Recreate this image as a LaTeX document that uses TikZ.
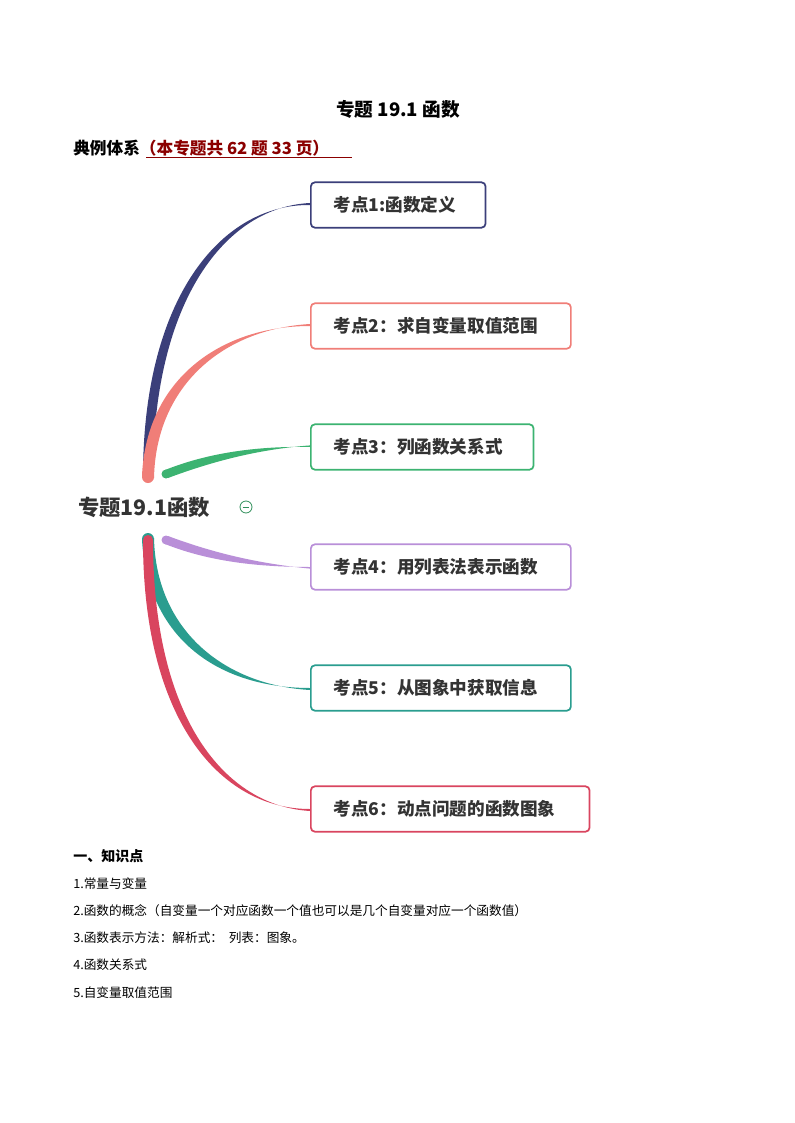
\documentclass[tikz,border=0pt]{standalone}
\usepackage{fontspec}
\setmainfont{Noto Sans CJK SC}
\usepackage{tikz}
\usetikzlibrary{positioning}

\definecolor{navy}{HTML}{3B3F7A}
\definecolor{salmon}{HTML}{F07E78}
\definecolor{leaf}{HTML}{3CB371}
\definecolor{lilac}{HTML}{B98FD8}
\definecolor{teal}{HTML}{2A9D8F}
\definecolor{rose}{HTML}{D9455F}
\definecolor{darkred}{HTML}{8B0000}
\definecolor{ink}{HTML}{333333}

\tikzset{
  topicbox/.style 2 args={draw=#1,line width=1.3pt,rounded corners=3pt,minimum height=34pt,
    anchor=west,inner xsep=17pt,text width=#2,align=left,
    font=\fontsize{13.2pt}{15pt}\selectfont\bfseries,text=ink},
  listline/.style={anchor=west,font=\fontsize{9.5pt}{11pt}\selectfont,inner sep=0pt}
}

\begin{document}
\begin{tikzpicture}[x=0.75pt,y=-0.75pt]
  \useasboundingbox (0,0) rectangle (794,1123);

  \node (title) at (398,109) {\fontsize{14pt}{16pt}\selectfont\bfseries 专题 19.1 函数};
  \node[anchor=west,inner sep=0pt] (system) at (73,148) {\fontsize{12.5pt}{14pt}\selectfont\bfseries 典例体系\textcolor{darkred}{（本专题共 62 题 33 页）}};
  \draw[darkred,line width=0.7pt] (146,157) -- (352,157);

  % topics
  \node[topicbox={navy}{97pt}] (t1) at (310,205) {考点1:函数定义};
  \node[topicbox={salmon}{161pt}] (t2) at (310,326) {考点2：求自变量取值范围};
  \node[topicbox={leaf}{133pt}] (t3) at (310,447) {考点3：列函数关系式};
  \node[topicbox={lilac}{161pt}] (t4) at (310,567) {考点4：用列表法表示函数};
  \node[topicbox={teal}{161pt}] (t5) at (310,688) {考点5：从图象中获取信息};
  \node[topicbox={rose}{175pt}] (t6) at (310,809) {考点6：动点问题的函数图象};

  % root
  \node[anchor=west,inner sep=0pt] (root) at (78,507) {\fontsize{16pt}{18pt}\selectfont\bfseries\color{ink}专题19.1函数};
  \node[circle,draw=leaf!80!black,line width=0.6pt,inner sep=0pt,minimum size=9pt] (fold) at (246,507) {};
  \draw[leaf!80!black,line width=0.6pt] ([xshift=-2.5pt]fold.center) -- ([xshift=2.5pt]fold.center);

  % branches
  \fill[navy] (143,476) .. controls (143,300) and (220,204) .. (t1.west) -- ([yshift=1.5pt]t1.west) .. controls (226,207) and (153,300) .. (153,476) -- cycle;
  \fill[navy] (148,476) circle (5);
  \fill[salmon] (142,476) .. controls (146,380) and (220,326) .. (t2.west) -- ([yshift=1.5pt]t2.west) .. controls (224,329) and (156,385) .. (154,478) -- cycle;
  \fill[salmon] (148,477) circle (6);
  \fill[leaf] (165,470) .. controls (210,452) and (260,446) .. (t3.west) -- ([yshift=1.2pt]t3.west) .. controls (262,449) and (216,460) .. (168,478) -- cycle;
  \fill[leaf] (166,474) circle (4.5);
  \fill[lilac] (165,544) .. controls (210,562) and (260,567) .. (t4.west) -- ([yshift=-1.2pt]t4.west) .. controls (262,564) and (216,554) .. (168,536) -- cycle;
  \fill[lilac] (166,540) circle (4.5);
  \fill[teal] (142,540) .. controls (148,640) and (220,688) .. (t5.west) -- ([yshift=-1.5pt]t5.west) .. controls (224,685) and (156,630) .. (154,538) -- cycle;
  \fill[teal] (148,539) circle (6);
  \fill[rose] (143,540) .. controls (143,720) and (220,809) .. (t6.west) -- ([yshift=-1.5pt]t6.west) .. controls (226,806) and (153,720) .. (153,540) -- cycle;
  \fill[rose] (148,540) circle (5);

  % knowledge points
  \node[listline] (k0) at (73,856) {\fontsize{10.5pt}{12pt}\selectfont\bfseries 一、知识点};
  \node[listline] (k1) at (73,884) {1.常量与变量};
  \node[listline] (k2) at (73,911) {2.函数的概念（自变量一个对应函数一个值也可以是几个自变量对应一个函数值）};
  \node[listline] (k3) at (73,938) {3.函数表示方法：解析式：\ \ 列表：图象。};
  \node[listline] (k4) at (73,965) {4.函数关系式};
  \node[listline] (k5) at (73,993) {5.自变量取值范围};
\end{tikzpicture}
\end{document}
